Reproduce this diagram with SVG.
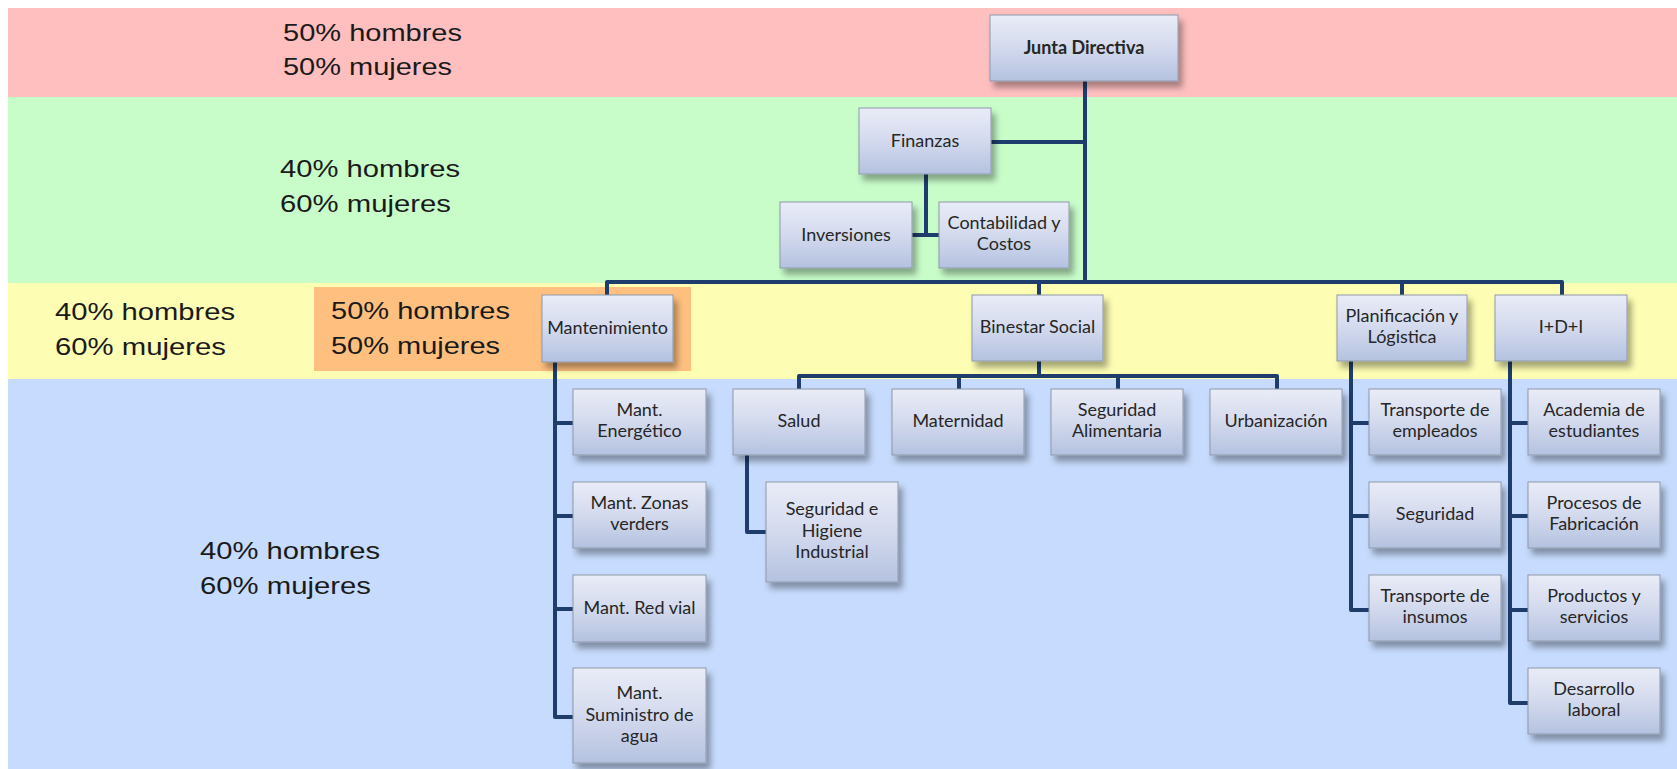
<svg xmlns="http://www.w3.org/2000/svg" width="1677" height="769" viewBox="0 0 1677 769">
<style>
.pct{font-family:"Liberation Sans",Arial,sans-serif;font-size:24px;fill:#1a1a1a}
.box{fill:url(#bg);stroke:#8f98aa;stroke-width:1;filter:url(#sh)}
.lbl{font-family:Lato,"Open Sans",sans-serif;font-size:18px;fill:#262626;text-anchor:middle}
.bold{font-weight:bold}
.conn{fill:none;stroke:#1f3d6c;stroke-width:4;stroke-linejoin:round;stroke-linecap:butt}
</style>
<defs>
<linearGradient id="bg" x1="0" y1="0" x2="0" y2="1">
<stop offset="0" stop-color="#e9ecf7"/>
<stop offset="0.45" stop-color="#d6dcef"/>
<stop offset="1" stop-color="#b4c2e0"/>
</linearGradient>
<filter id="sh" x="-10%" y="-10%" width="130%" height="140%">
<feDropShadow dx="4" dy="6" stdDeviation="3" flood-color="#000" flood-opacity="0.35"/>
</filter>
</defs>
<g id="bands">
<rect x="8" y="8" width="1669" height="89" fill="#ffbfbf"/>
<rect x="8" y="97" width="1669" height="186" fill="#c8fdca"/>
<rect x="8" y="283" width="1669" height="96" fill="#fdfdb3"/>
<rect x="8" y="379" width="1669" height="390" fill="#c6dbfd"/>
<rect x="314" y="287" width="377" height="84" fill="#ffc07f"/>
</g>
<g id="percentages">
<text class="pct" x="283" y="41" textLength="179" lengthAdjust="spacingAndGlyphs">50% hombres</text>
<text class="pct" x="283" y="75" textLength="169" lengthAdjust="spacingAndGlyphs">50% mujeres</text>
<text class="pct" x="280" y="177" textLength="180" lengthAdjust="spacingAndGlyphs">40% hombres</text>
<text class="pct" x="280" y="212" textLength="171" lengthAdjust="spacingAndGlyphs">60% mujeres</text>
<text class="pct" x="55" y="320" textLength="180" lengthAdjust="spacingAndGlyphs">40% hombres</text>
<text class="pct" x="55" y="355" textLength="171" lengthAdjust="spacingAndGlyphs">60% mujeres</text>
<text class="pct" x="331" y="319" textLength="179" lengthAdjust="spacingAndGlyphs">50% hombres</text>
<text class="pct" x="331" y="354" textLength="169" lengthAdjust="spacingAndGlyphs">50% mujeres</text>
<text class="pct" x="200" y="559" textLength="180" lengthAdjust="spacingAndGlyphs">40% hombres</text>
<text class="pct" x="200" y="594" textLength="171" lengthAdjust="spacingAndGlyphs">60% mujeres</text>
</g>
<g id="connectors">
<path class="conn" d="M1085,81 V282"/>
<path class="conn" d="M991,142 H1085"/>
<path class="conn" d="M926,174 V235 M912,235 H939"/>
<path class="conn" d="M607,295 V282 H1562 V295 M1039,282 V295 M1402,282 V295"/>
<path class="conn" d="M1039,361 V376 M799,389 V376 H1277 V389 M959,376 V389 M1118,376 V389"/>
<path class="conn" d="M555,362 V717 H573 M555,423 H573 M555,516 H573 M555,609 H573"/>
<path class="conn" d="M747,455 V532 H766"/>
<path class="conn" d="M1351,361 V610 H1369 M1351,423 H1369 M1351,516 H1369"/>
<path class="conn" d="M1510,361 V703 H1528 M1510,423 H1528 M1510,516 H1528 M1510,610 H1528"/>
</g>
<g id="junta"><rect class="box" x="990" y="15" width="188" height="66"/><text class="lbl bold" x="1084" y="54">Junta Directiva</text></g>
<g id="finanzas"><rect class="box" x="859" y="108" width="132" height="66"/><text class="lbl" x="925" y="147">Finanzas</text></g>
<g id="inversiones"><rect class="box" x="780" y="202" width="132" height="66"/><text class="lbl" x="846" y="241">Inversiones</text></g>
<g id="contabilidad"><rect class="box" x="939" y="202" width="130" height="66"/><text class="lbl" x="1004" y="229">Contabilidad y</text><text class="lbl" x="1004" y="250">Costos</text></g>
<g id="mantenimiento"><rect class="box" x="542" y="295" width="131" height="67"/><text class="lbl" x="607.5" y="334">Mantenimiento</text></g>
<g id="binestar"><rect class="box" x="972" y="295" width="131" height="66"/><text class="lbl" x="1037.5" y="333">Binestar Social</text></g>
<g id="planificacion"><rect class="box" x="1337" y="295" width="130" height="66"/><text class="lbl" x="1402" y="322">Planificación y</text><text class="lbl" x="1402" y="343">Lógistica</text></g>
<g id="idi"><rect class="box" x="1495" y="295" width="132" height="66"/><text class="lbl" x="1561" y="333">I+D+I</text></g>
<g id="mant-energetico"><rect class="box" x="573" y="389" width="133" height="66"/><text class="lbl" x="639.5" y="416">Mant.</text><text class="lbl" x="639.5" y="437">Energético</text></g>
<g id="mant-zonas"><rect class="box" x="573" y="482" width="133" height="66"/><text class="lbl" x="639.5" y="509">Mant. Zonas</text><text class="lbl" x="639.5" y="530">verders</text></g>
<g id="mant-red"><rect class="box" x="573" y="575" width="133" height="67"/><text class="lbl" x="639.5" y="614">Mant. Red vial</text></g>
<g id="mant-agua"><rect class="box" x="573" y="668" width="133" height="95"/><text class="lbl" x="639.5" y="699">Mant.</text><text class="lbl" x="639.5" y="721">Suministro de</text><text class="lbl" x="639.5" y="742">agua</text></g>
<g id="salud"><rect class="box" x="733" y="389" width="132" height="66"/><text class="lbl" x="799" y="427">Salud</text></g>
<g id="seg-higiene"><rect class="box" x="766" y="482" width="132" height="100"/><text class="lbl" x="832" y="515">Seguridad e</text><text class="lbl" x="832" y="537">Higiene</text><text class="lbl" x="832" y="558">Industrial</text></g>
<g id="maternidad"><rect class="box" x="892" y="389" width="132" height="66"/><text class="lbl" x="958" y="427">Maternidad</text></g>
<g id="seg-alimentaria"><rect class="box" x="1051" y="389" width="132" height="66"/><text class="lbl" x="1117" y="416">Seguridad</text><text class="lbl" x="1117" y="437">Alimentaria</text></g>
<g id="urbanizacion"><rect class="box" x="1210" y="389" width="132" height="66"/><text class="lbl" x="1276" y="427">Urbanización</text></g>
<g id="transp-empleados"><rect class="box" x="1369" y="389" width="132" height="66"/><text class="lbl" x="1435" y="416">Transporte de</text><text class="lbl" x="1435" y="437">empleados</text></g>
<g id="seguridad"><rect class="box" x="1369" y="482" width="132" height="66"/><text class="lbl" x="1435" y="520">Seguridad</text></g>
<g id="transp-insumos"><rect class="box" x="1369" y="575" width="132" height="66"/><text class="lbl" x="1435" y="602">Transporte de</text><text class="lbl" x="1435" y="623">insumos</text></g>
<g id="academia"><rect class="box" x="1528" y="389" width="132" height="66"/><text class="lbl" x="1594" y="416">Academia de</text><text class="lbl" x="1594" y="437">estudiantes</text></g>
<g id="procesos"><rect class="box" x="1528" y="482" width="132" height="66"/><text class="lbl" x="1594" y="509">Procesos de</text><text class="lbl" x="1594" y="530">Fabricación</text></g>
<g id="productos"><rect class="box" x="1528" y="575" width="132" height="66"/><text class="lbl" x="1594" y="602">Productos y</text><text class="lbl" x="1594" y="623">servicios</text></g>
<g id="desarrollo"><rect class="box" x="1528" y="668" width="132" height="66"/><text class="lbl" x="1594" y="716">laboral</text><text class="lbl" x="1594" y="695">Desarrollo</text></g>
</svg>
